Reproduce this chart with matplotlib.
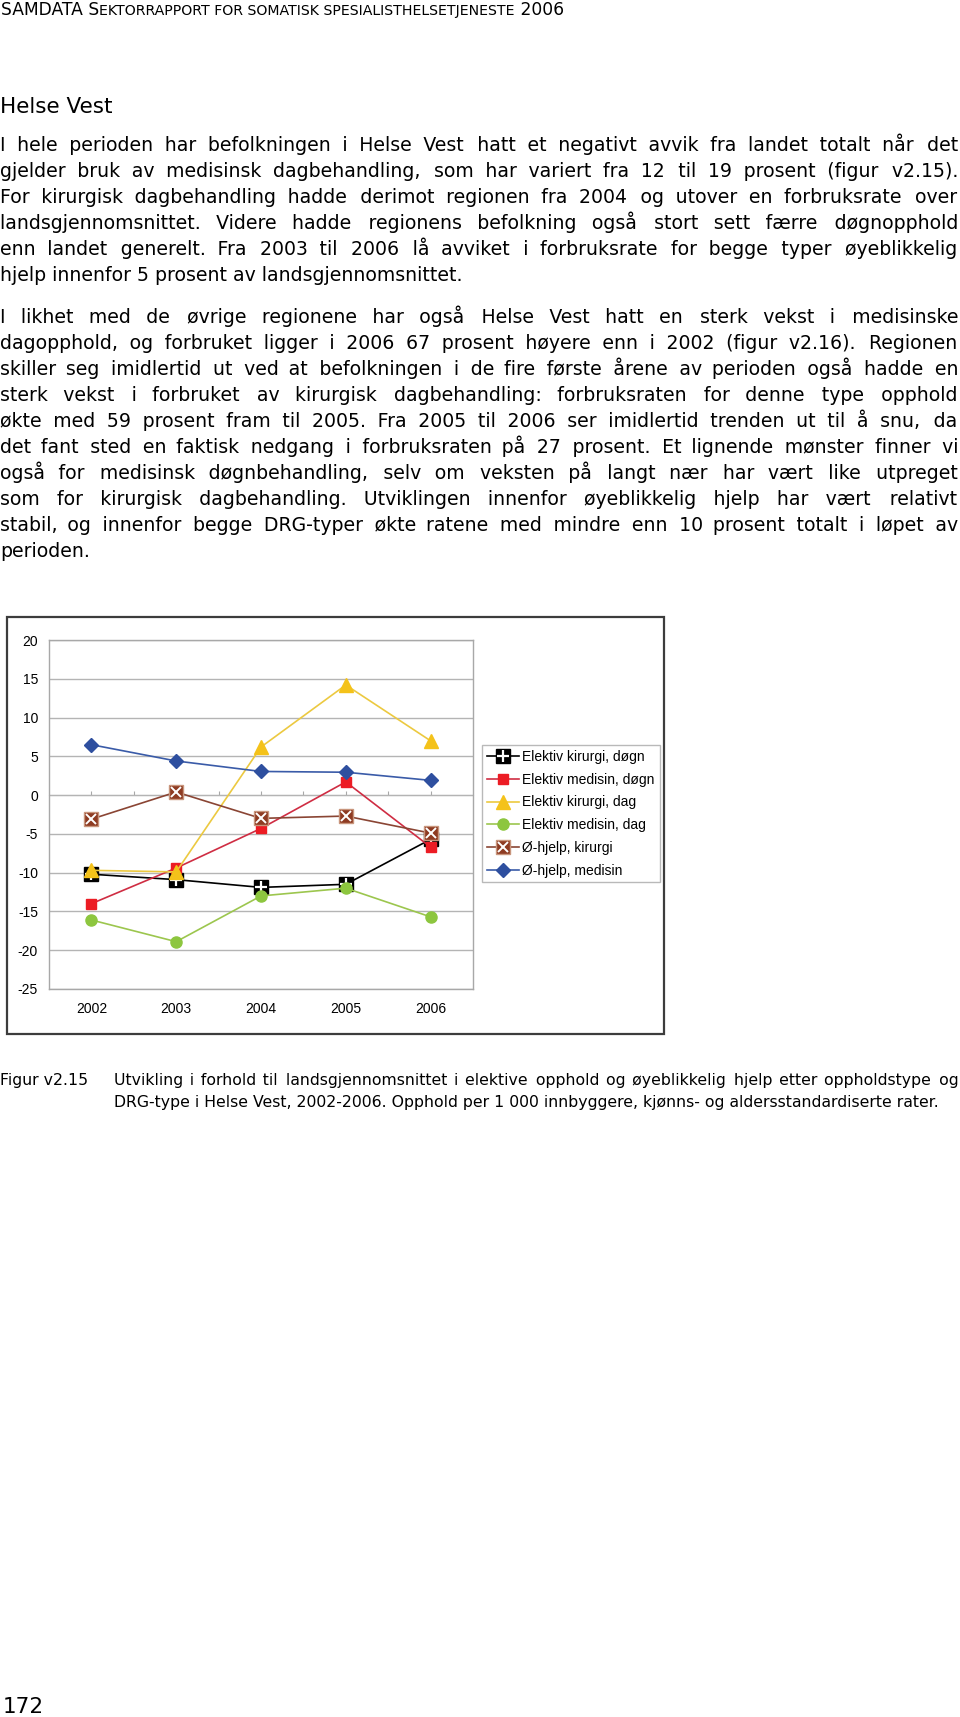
import numpy as np
import matplotlib
matplotlib.use("Agg")
from matplotlib import pyplot as plt
from matplotlib.patches import Rectangle
from matplotlib.lines import Line2D
from matplotlib.legend_handler import HandlerTuple

W, H = 960, 1717

# data (avvik fra landsgjennomsnittet, prosent)
years = ["2002", "2003", "2004", "2005", "2006"]
kir_dogn = [-10.2, -10.9, -11.9, -11.5, -5.7]
med_dogn = [-14.0, -9.4, -4.3, 1.7, -6.7]
kir_dag = [-9.7, -9.9, 6.2, 14.2, 7.0]
med_dag = [-16.1, -18.9, -13.0, -12.0, -15.7]
ohj_kir = [-3.1, 0.4, -3.0, -2.7, -4.9]
ohj_med = [6.5, 4.4, 3.05, 2.95, 1.9]
series_labels = ["Elektiv kirurgi, døgn", "Elektiv medisin, døgn", "Elektiv kirurgi, dag",
                 "Elektiv medisin, dag", "Ø-hjelp, kirurgi", "Ø-hjelp, medisin"]
yticks = [20, 15, 10, 5, 0, -5, -10, -15, -20, -25]

header_big1 = "SAMDATA S"
header_small = "EKTORRAPPORT FOR SOMATISK SPESIALISTHELSETJENESTE"
header_big2 = " 2006"
title = "Helse Vest"
para1 = [
    "I hele perioden har befolkningen i Helse Vest hatt et negativt avvik fra landet totalt når det",
    "gjelder bruk av medisinsk dagbehandling, som har variert fra 12 til 19 prosent (figur v2.15).",
    "For kirurgisk dagbehandling hadde derimot regionen fra 2004 og utover en forbruksrate over",
    "landsgjennomsnittet. Videre hadde regionens befolkning også stort sett færre døgnopphold",
    "enn landet generelt. Fra 2003 til 2006 lå avviket i forbruksrate for begge typer øyeblikkelig",
    "hjelp innenfor 5 prosent av landsgjennomsnittet.",
]
para2 = [
    "I likhet med de øvrige regionene har også Helse Vest hatt en sterk vekst i medisinske",
    "dagopphold, og forbruket ligger i 2006 67 prosent høyere enn i 2002 (figur v2.16). Regionen",
    "skiller seg imidlertid ut ved at befolkningen i de fire første årene av perioden også hadde en",
    "sterk vekst i forbruket av kirurgisk dagbehandling: forbruksraten for denne type opphold",
    "økte med 59 prosent fram til 2005. Fra 2005 til 2006 ser imidlertid trenden ut til å snu, da",
    "det fant sted en faktisk nedgang i forbruksraten på 27 prosent. Et lignende mønster finner vi",
    "også for medisinsk døgnbehandling, selv om veksten på langt nær har vært like utpreget",
    "som for kirurgisk dagbehandling. Utviklingen innenfor øyeblikkelig hjelp har vært relativt",
    "stabil, og innenfor begge DRG-typer økte ratene med mindre enn 10 prosent totalt i løpet av",
    "perioden.",
]
fig_label = "Figur v2.15"
caption = [
    "Utvikling i forhold til landsgjennomsnittet i elektive opphold og øyeblikkelig hjelp etter oppholdstype og",
    "DRG-type i Helse Vest, 2002-2006. Opphold per 1 000 innbyggere, kjønns- og aldersstandardiserte rater.",
]
page_no = "172"

plt.rcParams["font.family"] = ["DejaVu Sans", "Noto Sans"]
fig = plt.figure(figsize=(W / 100, H / 100), dpi=100)
renderer = fig.canvas.get_renderer()
HAIR = "\u200a"


def px_text(x, y, s, size, **kw):
    # x, y in pixels from top-left, y = baseline
    return fig.text(x / W, 1 - y / H, s, fontsize=size, va="baseline", **kw)


def width(t):
    return t.get_window_extent(renderer).width


def justified(line, y, x0, x1, size):
    # one text per line; the word gaps are widened with hair spaces
    words = line.split()
    probe = px_text(0, y, "x" + HAIR * 20 + "x", size)
    base = px_text(0, y, "xx", size)
    hair_w = max((width(probe) - width(base)) / 20, 0.5)
    probe.remove()
    base.remove()
    t = px_text(x0, y, " ".join(words), size)
    extra = x1 - x0 - width(t)
    n_hair = max(0, int(round(extra / hair_w)))
    gaps = len(words) - 1
    parts = [words[0]]
    for i, w in enumerate(words[1:]):
        k = n_hair * (i + 1) // gaps - n_hair * i // gaps
        parts.append(" " + HAIR * k + w)
    t.set_text("".join(parts))


def paragraph(lines, y0, step, x0, x1, size):
    for i, line in enumerate(lines):
        y = y0 + i * step
        if i < len(lines) - 1:
            justified(line, y, x0, x1, size)
        else:
            px_text(x0, y, line, size)


# header in small caps
t = px_text(1, 15, header_big1, 12.3)
x = 1 + width(t)
t = px_text(x, 15, header_small, 10.2)
x += width(t)
px_text(x, 15, header_big2, 12.3)

px_text(0, 113, title, 15.5)

body = 13.6
paragraph(para1, 151, 26.0, 0, 958, body)
paragraph(para2, 323, 26.0, 0, 958, body)

# chart frame
fig.add_artist(Rectangle((7 / W, 1 - 1034 / H), 657 / W, 417 / H, transform=fig.transFigure,
                         fill=False, ec="#3c3c3c", lw=1.6))

ax = fig.add_axes([49 / W, 1 - 989 / H, 424 / W, 349 / H])
x = np.arange(len(years))

ax.plot(x, kir_dogn, color="black", lw=1.2, marker="s", ms=9.5, mfc="black", mec="black")
ax.plot(x, kir_dogn, ls="none", marker="+", ms=8, mec="white", mew=1.6)
ax.plot(x, med_dogn, color="#cf2d43", lw=1.2, marker="s", ms=7.5, mfc="#ec1c24", mec="#ec1c24")
ax.plot(x, kir_dag, color="#ecc940", lw=1.2, marker="^", ms=9.5, mfc="#f4c21a", mec="#f4c21a")
ax.plot(x, med_dag, color="#9cc64e", lw=1.2, marker="o", ms=8, mfc="#8dc63f", mec="#8dc63f")
ax.plot(x, ohj_kir, color="#8a4534", lw=1.2, marker="s", ms=9.5, mfc="#8e3b22", mec="#c8957c")
ax.plot(x, ohj_kir, ls="none", marker="x", ms=7, mec="white", mew=1.4)
ax.plot(x, ohj_med, color="#3a5ba8", lw=1.2, marker="D", ms=7, mfc="#2e4f9f", mec="#2e4f9f")

ax.set_xlim(-0.5, len(years) - 0.5)
ax.set_ylim(yticks[-1], yticks[0])
ax.set_yticks(yticks)
ax.set_yticklabels([str(v) for v in yticks], family="Liberation Sans", fontsize=10)
ax.set_xticks(x)
ax.set_xticklabels(years, family="Liberation Sans", fontsize=10)
ax.tick_params(length=0)
ax.tick_params(axis="x", pad=9)
ax.tick_params(axis="y", pad=8)
ax.grid(axis="y", color="#b4b4b4", lw=1)
ax.set_axisbelow(True)
for s in ax.spines.values():
    s.set_color("#a8a8a8")
    s.set_linewidth(1)

# category axis crossing at zero, small tick marks pointing up
ymin, ymax = ax.get_ylim()
zero_ax = ax.secondary_xaxis((0 - ymin) / (ymax - ymin))
zticks = np.arange(0, len(years) - 0.5, 0.5)
zero_ax.set_xticks(zticks, labels=[""] * len(zticks))
zero_ax.tick_params(direction="out", length=3, color="#a8a8a8",
                    labeltop=False, labelbottom=False)
for s in zero_ax.spines.values():
    s.set_color("#a8a8a8")

handles = [
    (Line2D([], [], color="black", lw=1.2, marker="s", ms=9.5, mfc="black", mec="black"),
     Line2D([], [], ls="none", marker="+", ms=8, mec="white", mew=1.6)),
    Line2D([], [], color="#cf2d43", lw=1.2, marker="s", ms=7.5, mfc="#ec1c24", mec="#ec1c24"),
    Line2D([], [], color="#ecc940", lw=1.2, marker="^", ms=9.5, mfc="#f4c21a", mec="#f4c21a"),
    Line2D([], [], color="#9cc64e", lw=1.2, marker="o", ms=8, mfc="#8dc63f", mec="#8dc63f"),
    (Line2D([], [], color="#8a4534", lw=1.2, marker="s", ms=9.5, mfc="#8e3b22", mec="#c8957c"),
     Line2D([], [], ls="none", marker="x", ms=7, mec="white", mew=1.4)),
    Line2D([], [], color="#3a5ba8", lw=1.2, marker="D", ms=7, mfc="#2e4f9f", mec="#2e4f9f"),
]
leg = fig.legend(handles, series_labels, loc="upper left", bbox_to_anchor=(482 / W, 1 - 745 / H),
                 bbox_transform=fig.transFigure, handler_map={tuple: HandlerTuple(ndivide=1)},
                 prop={"family": "Liberation Sans", "size": 10}, frameon=True, fancybox=False,
                 edgecolor="#a8a8a8", borderaxespad=0, borderpad=0.35, handlelength=2.3,
                 handletextpad=0.25, labelspacing=0.63)
leg.get_frame().set_linewidth(1)

# caption
cap = 11.3
px_text(0, 1085, fig_label, cap)
justified(caption[0], 1085, 114, 958, cap)
px_text(114, 1107, caption[1], cap)

px_text(3, 1713, page_no, 15.5)

fig.savefig("out.png", dpi=100)
